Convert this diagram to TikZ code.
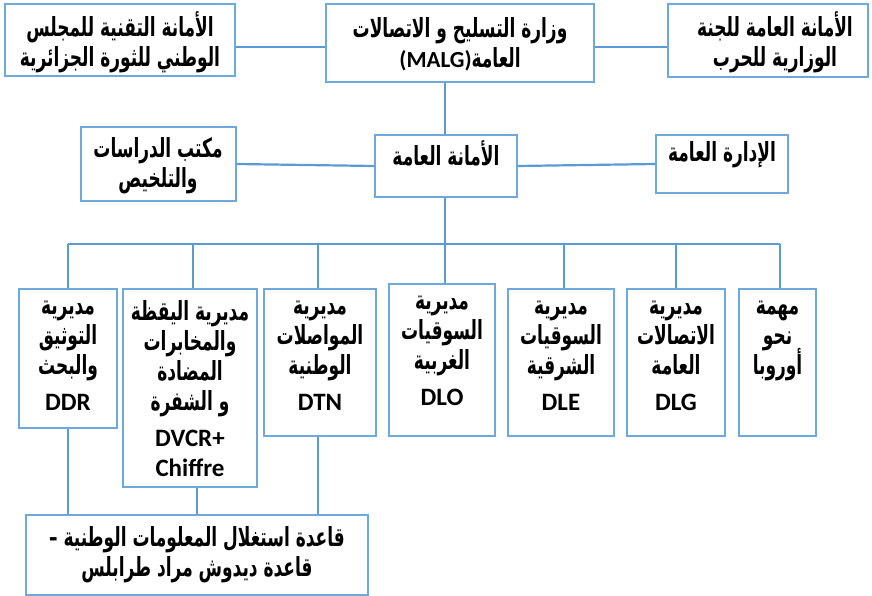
\documentclass[tikz,border=0pt]{standalone}
\usepackage{fontspec}
\usepackage{graphicx}
\TeXXeTstate=1
\newfontfamily\arfont[Script=Arabic]{DejaVu Sans}
\newfontfamily\latfont{Carlito}
\definecolor{lineblue}{RGB}{91,155,213}
\definecolor{boxblue}{RGB}{111,168,220}
\newcommand{\arl}[1]{{\arfont\bfseries\scalebox{1}[1.55]{\beginR #1\endR}}}
\newcommand{\latl}[1]{{\fontsize{25}{30}\selectfont\latfont\bfseries #1}}
\newcommand{\tightlines}{\lineskiplimit=-30pt\relax\lineskip=0pt\relax}
\tikzset{
  box/.style={draw=boxblue, line width=1.4pt, fill=white, inner sep=0pt},
  txt/.style={align=center, inner sep=0pt, font={\fontsize{17}{30}\selectfont\bfseries\tightlines}},
  conn/.style={draw=lineblue, line width=2.2pt},
}
\begin{document}
\begin{tikzpicture}[x=1pt,y=-1pt]
\useasboundingbox (0,0) rectangle (872,596);
\coordinate (top) at (0,47);
\coordinate (spine) at (445,0);
\coordinate (bus) at (0,244);
% boxes
\node[box, minimum width=230, minimum height=72] (a) at (120,40) {};
\node[box, minimum width=268, minimum height=78] (malg) at (460,43) {};
\node[box, minimum width=200, minimum height=73] (war) at (768,40.5) {};
\node[box, minimum width=142, minimum height=62] (amana) at (446,166) {};
\node[box, minimum width=155, minimum height=74] (office) at (158.5,164) {};
\node[box, minimum width=132, minimum height=58] (idara) at (722,164) {};
\node[box, minimum width=98, minimum height=139] (ddr) at (68,358.5) {};
\node[box, minimum width=134, minimum height=198] (dvcr) at (190,388) {};
\node[box, minimum width=112, minimum height=147] (dtn) at (320,362.5) {};
\node[box, minimum width=106, minimum height=152] (dlo) at (442,360) {};
\node[box, minimum width=106, minimum height=147] (dle) at (561,362.5) {};
\node[box, minimum width=98, minimum height=147] (dlg) at (676,362.5) {};
\node[box, minimum width=77, minimum height=147] (eur) at (777.5,362.5) {};
\node[box, minimum width=342, minimum height=80] (base) at (197,555) {};
% connectors
\draw[conn] (a.east |- top) -- (malg.west |- top);
\draw[conn] (malg.east |- top) -- (war.west |- top);
\draw[conn] (malg.south -| spine) -- (amana.north -| spine);
\draw[conn] (office.east) -- (amana.west);
\draw[conn] (amana.east) -- (idara.west);
\draw[conn] (amana.south -| spine) -- (dlo.north -| spine);
\draw[conn] (ddr.north |- bus) -- ([xshift=2.5]eur.north |- bus);
\draw[conn] (ddr.north) -- (ddr.north |- bus);
\draw[conn] ([xshift=3]dvcr.north) -- ([xshift=3]dvcr.north |- bus);
\draw[conn] ([xshift=-2]dtn.north) -- ([xshift=-2]dtn.north |- bus);
\draw[conn] ([xshift=3]dle.north) -- ([xshift=3]dle.north |- bus);
\draw[conn] (dlg.north) -- (dlg.north |- bus);
\draw[conn] ([xshift=2.5]eur.north) -- ([xshift=2.5]eur.north |- bus);
\draw[conn] (ddr.south) -- (ddr.south |- base.north);
\draw[conn] ([xshift=7]dvcr.south) -- ([xshift=7]dvcr.south |- base.north);
\draw[conn] ([xshift=-2]dtn.south) -- ([xshift=-2]dtn.south |- base.north);
% texts
\node[txt] (at) at (120,42) {\arl{الأمانة التقنية للمجلس}\\\arl{الوطني للثورة الجزائرية}};
\node[txt] (malgt) at (460,44) {\arl{وزارة التسليح و الاتصالات}\\{\fontsize{23}{30}\selectfont\latfont\bfseries(MALG)}\arl{العامة}};
\node[txt] (wart) at (775,42) {\arl{الأمانة العامة للجنة}\\\arl{الوزارية للحرب}};
\node[txt, anchor=north] (amanat) at ([yshift=-6]amana.north) {\arl{الأمانة العامة}};
\node[txt] (officet) at (158,166) {\arl{مكتب الدراسات}\\\arl{والتلخيص}};
\node[txt, anchor=north] (idarat) at ([yshift=-7]idara.north) {\arl{الإدارة العامة}};
\node[txt, anchor=north] (ddrt) at ([yshift=-12]ddr.north) {\arl{مديرية}\\\arl{التوثيق}\\\arl{والبحث}\\[6pt]\latl{DDR}};
\node[txt, anchor=north] (dvcrt) at ([yshift=-12]dvcr.north) {\arl{مديرية اليقظة}\\\arl{والمخابرات}\\\arl{المضادة}\\\arl{و الشفرة}\\[6pt]\latl{DVCR+}\\\latl{Chiffre}};
\node[txt, anchor=north] (dtnt) at ([yshift=-12]dtn.north) {\arl{مديرية}\\\arl{المواصلات}\\\arl{الوطنية}\\[6pt]\latl{DTN}};
\node[txt, anchor=north] (dlot) at ([yshift=-12]dlo.north) {\arl{مديرية}\\\arl{السوقيات}\\\arl{الغربية}\\[6pt]\latl{DLO}};
\node[txt, anchor=north] (dlet) at ([yshift=-12]dle.north) {\arl{مديرية}\\\arl{السوقيات}\\\arl{الشرقية}\\[6pt]\latl{DLE}};
\node[txt, anchor=north] (dlgt) at ([yshift=-12]dlg.north) {\arl{مديرية}\\\arl{الاتصالات}\\\arl{العامة}\\[6pt]\latl{DLG}};
\node[txt, anchor=north] (eurt) at ([yshift=-12]eur.north) {\arl{مهمة}\\\arl{نحو}\\\arl{أوروبا}};
\node[txt] (baset) at (197,555) {\arl{قاعدة استغلال المعلومات الوطنية –}\\\arl{قاعدة ديدوش مراد طرابلس}};
\end{tikzpicture}
\end{document}
